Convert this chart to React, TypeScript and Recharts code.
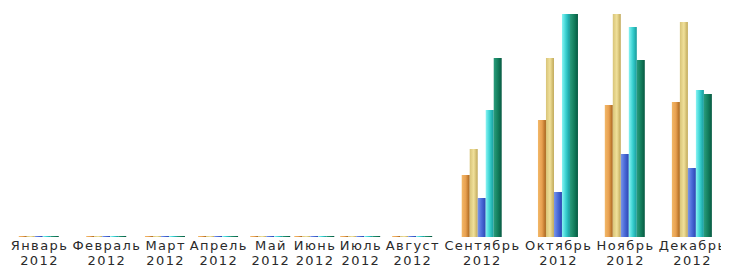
import React from 'react';
import { BarChart, Bar, XAxis, YAxis } from 'recharts';

const months = ['Январь', 'Февраль', 'Март', 'Апрель', 'Май', 'Июнь', 'Июль', 'Август', 'Сентябрь', 'Октябрь', 'Ноябрь', 'Декабрь'];
const years = ['2012', '2012', '2012', '2012', '2012', '2012', '2012', '2012', '2012', '2012', '2012', '2012'];

const seriesA = [0, 0, 0, 0, 0, 0, 0, 0, 62, 117, 132, 135];
const seriesB = [0, 0, 0, 0, 0, 0, 0, 0, 88, 179, 223, 215];
const seriesC = [0, 0, 0, 0, 0, 0, 0, 0, 39, 45, 83, 69];
const seriesD = [0, 0, 0, 0, 0, 0, 0, 0, 127, 223, 210, 147];
const seriesE = [0, 0, 0, 0, 0, 0, 0, 0, 179, 223, 177, 143];

const FONT = '13px "DejaVu Sans"';
const SPACING = 1.4;

// each month takes as much room as its label, like the original chart
const measure = (t: string) => {
  const ctx = document.createElement('canvas').getContext('2d');
  if (!ctx) return t.length * 9;
  ctx.font = FONT;
  return ctx.measureText(t).width + t.length * SPACING;
};
const slots = months.map((m, i) => Math.max(measure(m), measure(years[i])) + 2);
const total = slots.reduce((a, b) => a + b, 0);
const centers: number[] = [];
slots.reduce((acc, w) => {
  centers.push(acc + w / 2);
  return acc + w;
}, 0);

const data = months.map((m, i) => ({
  x: centers[i],
  a: seriesA[i],
  b: seriesB[i],
  c: seriesC[i],
  d: seriesD[i],
  e: seriesE[i],
}));

const grads = [
  { id: 'ga', stops: ['#f2b868', '#e8a050', '#a8641c'] },
  { id: 'gb', stops: ['#d8c478', '#f0e09a', '#c0a858'] },
  { id: 'gc', stops: ['#7896ea', '#4a6ad8', '#2a46b0'] },
  { id: 'gd', stops: ['#88f4f4', '#38d0d0', '#169a9a'] },
  { id: 'ge', stops: ['#2a9c7c', '#14805e', '#075a42'] },
];

const MonthTick = (props: any) => {
  const { x, y, payload } = props;
  const i = centers.findIndex((c) => Math.abs(c - payload.value) < 0.01);
  return (
    <text x={x} y={y} textAnchor="middle" fill="#2a2a2a" style={{ font: FONT, letterSpacing: SPACING }}>
      <tspan x={x + SPACING / 2} dy={5}>{months[i]}</tspan>
      <tspan x={x + SPACING / 2} dy={15}>{years[i]}</tspan>
    </text>
  );
};

export default function App() {
  return (
    <BarChart width={721} height={260} data={data} margin={{ top: 6, right: 1, bottom: 0, left: 0 }} barGap={0}>
      <defs>
        {grads.map((g) => (
          <linearGradient key={g.id} id={g.id} x1="0" y1="0" x2="1" y2="0">
            <stop offset="0%" stopColor={g.stops[0]} />
            <stop offset="50%" stopColor={g.stops[1]} />
            <stop offset="100%" stopColor={g.stops[2]} />
          </linearGradient>
        ))}
      </defs>
      <XAxis
        dataKey="x"
        type="number"
        domain={[0, total]}
        ticks={centers}
        interval={0}
        axisLine={false}
        tickLine={false}
        tick={<MonthTick />}
        height={31}
      />
      <YAxis hide domain={[0, 223]} />
      <Bar dataKey="a" fill="url(#ga)" barSize={8} minPointSize={1} isAnimationActive={false} />
      <Bar dataKey="b" fill="url(#gb)" barSize={8} minPointSize={1} isAnimationActive={false} />
      <Bar dataKey="c" fill="url(#gc)" barSize={8} minPointSize={1} isAnimationActive={false} />
      <Bar dataKey="d" fill="url(#gd)" barSize={8} minPointSize={1} isAnimationActive={false} />
      <Bar dataKey="e" fill="url(#ge)" barSize={8} minPointSize={1} isAnimationActive={false} />
    </BarChart>
  );
}
